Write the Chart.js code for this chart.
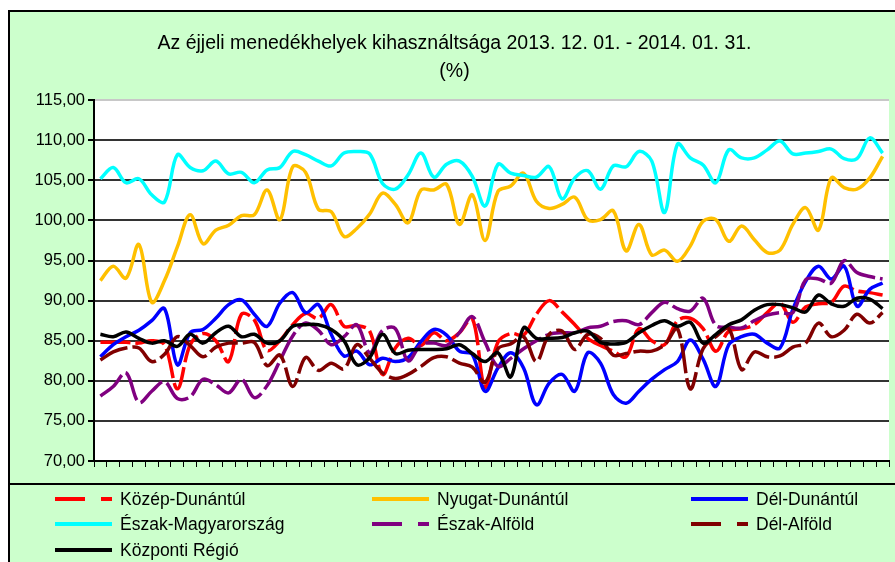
<!DOCTYPE html>
<html>
<head>
<meta charset="utf-8">
<script src="https://cdn.jsdelivr.net/npm/chart.js@4.4.1/dist/chart.umd.min.js"></script>
<style>
  html, body { margin: 0; padding: 0; background: #fff; }
</style>
</head>
<body>
<canvas id="shelter-chart" width="895" height="562"></canvas>
<script>
// days of the period 2013.12.01 - 2014.01.31 (not shown as labels on the axis)
const days = [
  '12.01','12.02','12.03','12.04','12.05','12.06','12.07','12.08','12.09','12.10',
  '12.11','12.12','12.13','12.14','12.15','12.16','12.17','12.18','12.19','12.20',
  '12.21','12.22','12.23','12.24','12.25','12.26','12.27','12.28','12.29','12.30','12.31',
  '01.01','01.02','01.03','01.04','01.05','01.06','01.07','01.08','01.09','01.10',
  '01.11','01.12','01.13','01.14','01.15','01.16','01.17','01.18','01.19','01.20',
  '01.21','01.22','01.23','01.24','01.25','01.26','01.27','01.28','01.29','01.30','01.31'
];

const kozepDunantul = [
  84.8, 84.8, 84.8, 84.7, 85.0, 84.5, 79.0, 84.5, 85.9, 85.0,
  82.4, 88.3, 87.6, 83.8, 85.0, 87.0, 88.4, 87.8, 89.5, 86.8,
  86.9, 86.2, 80.8, 84.1, 85.3, 84.4, 86.0, 85.0, 86.0, 87.8,
  79.2, 84.8, 85.9, 85.7, 88.3, 90.0, 88.6, 87.0, 85.3, 84.4,
  83.7, 83.0, 86.5, 85.0, 84.5, 87.5, 87.8, 86.5, 83.7, 86.2,
  86.5, 87.0, 88.5, 89.7, 87.3, 89.2, 89.6, 89.8, 91.8, 91.2,
  91.0, 90.7
];
const nyugatDunantul = [
  92.5, 94.3, 92.8, 97.0, 89.8, 92.5, 96.7, 100.7, 97.1, 98.8,
  99.4, 100.6, 100.7, 103.8, 100.1, 106.7, 106.0, 101.4, 101.1, 98.0,
  99.0, 100.8, 103.4, 102.0, 99.7, 103.8, 103.8, 104.5, 99.5, 103.2,
  97.5, 103.6, 104.3, 105.9, 102.4, 101.5, 102.0, 102.9, 100.1, 100.1,
  101.2, 96.2, 99.5, 95.7, 96.3, 94.9, 96.8, 99.9, 100.1, 97.4,
  99.3, 97.6, 96.0, 96.3, 99.5, 101.6, 98.8, 105.3, 104.1, 103.9,
  105.3, 108.0
];
const delDunantul = [
  83.0, 84.5, 85.5, 86.3, 87.5, 89.0, 82.0, 86.0, 86.4, 87.8,
  89.5, 90.1, 88.3, 86.8, 89.7, 91.0, 88.5, 89.5, 85.8, 83.1,
  83.7, 82.0, 82.8, 82.4, 82.9, 84.9, 86.4, 85.7, 83.7, 83.3,
  78.7, 81.6, 83.5, 81.6, 77.0, 79.7, 80.8, 78.7, 83.5, 82.2,
  78.3, 77.2, 78.7, 80.2, 81.4, 82.4, 85.1, 82.7, 79.3, 84.5,
  85.5, 85.8, 84.7, 84.1, 88.9, 92.4, 94.3, 92.7, 94.3, 89.3,
  91.4, 92.2
];
const eszakMagyarorszag = [
  105.2, 106.6, 104.7, 105.2, 103.2, 102.3, 108.2, 106.6, 106.2, 107.4,
  105.8, 106.0, 104.7, 106.3, 106.6, 108.6, 108.2, 107.4, 106.8, 108.4,
  108.6, 108.3, 104.6, 103.9, 105.7, 108.4, 105.4, 107.0, 107.4, 105.5,
  101.8, 107.0, 105.9, 105.6, 105.4, 106.7, 102.7, 105.3, 106.2, 103.9,
  106.8, 106.7, 108.6, 107.4, 101.0, 109.5, 107.8, 106.9, 104.7, 108.8,
  107.8, 107.8, 108.8, 109.9, 108.3, 108.4, 108.6, 108.9, 107.7, 107.7,
  110.3, 108.4
];
const eszakAlfold = [
  78.1, 79.3, 81.0, 77.3, 78.7, 79.9, 77.8, 78.0, 80.2, 79.5,
  78.5, 80.2, 77.9, 79.4, 82.5, 85.6, 87.2, 86.3, 84.5, 85.5,
  87.0, 83.5, 86.3, 86.5, 82.5, 84.5, 84.7, 84.4, 86.0, 88.0,
  84.8, 81.8, 82.8, 84.0, 85.0, 85.8, 86.0, 86.0, 86.6, 86.8,
  87.4, 87.5, 87.0, 88.5, 89.8, 89.0, 88.7, 90.3, 86.9, 86.7,
  86.6, 87.5, 88.2, 88.5, 88.5, 92.6, 92.7, 92.2, 95.0, 93.5,
  93.0, 92.7
];
const delAlfold = [
  82.6, 83.6, 84.1, 84.1, 82.4, 83.3, 85.5, 84.4, 83.0, 84.2,
  84.7, 84.7, 84.8, 81.9, 83.2, 79.3, 82.9, 81.3, 82.2, 81.5,
  84.5, 82.8, 81.0, 80.3, 80.8, 81.8, 82.9, 83.0, 82.2, 81.7,
  79.8, 84.0, 84.6, 85.5, 82.4, 85.8, 86.2, 83.9, 85.8, 85.3,
  83.2, 83.4, 83.7, 83.7, 84.5, 86.5, 79.0, 84.0, 85.5, 86.5,
  81.4, 83.6, 83.0, 83.1, 84.2, 84.7, 87.2, 85.5, 86.3, 88.3,
  87.2, 88.5
];
const kozpontiRegio = [
  85.8, 85.5, 86.1, 85.3, 84.7, 85.0, 84.3, 85.8, 84.7, 86.0,
  86.8, 85.5, 85.8, 84.7, 85.0, 86.8, 87.0, 87.0, 86.4, 85.0,
  82.0, 82.9, 85.8, 83.4, 83.8, 83.9, 83.9, 84.0, 84.5, 83.4,
  82.4, 83.5, 80.5, 86.6, 85.3, 85.3, 85.4, 86.0, 86.2, 84.8,
  84.6, 84.8, 86.0, 86.9, 87.5, 86.8, 87.3, 84.7, 85.8, 87.0,
  87.6, 88.8, 89.5, 89.5, 89.1, 88.6, 90.7, 89.6, 89.3, 90.3,
  90.2, 89.0
];

const FONT = '"Liberation Sans", Arial, sans-serif';
const plotDash = [30, 5];

function series(label, data, color, dashed, order) {
    return {
        label: label,
        data: data,
        borderColor: color,
        backgroundColor: color,
        borderWidth: 3.5,
        borderDash: dashed ? plotDash : [],
        legendDash: dashed ? [30, 16] : [],
        pointRadius: 0,
        tension: 0.35,
        fill: false,
        order: order
    };
}

// green frame, borders and white plot area
const framePlugin = {
    id: 'frame',
    beforeDraw(chart) {
        const { ctx, chartArea: a } = chart;
        ctx.save();
        ctx.fillStyle = '#fff';
        ctx.fillRect(0, 0, chart.width, chart.height);
        ctx.fillStyle = '#ccffcc';
        ctx.fillRect(9, 11, chart.width - 9, chart.height - 11);
        ctx.strokeStyle = '#000';
        ctx.lineWidth = 2;
        ctx.beginPath();
        ctx.moveTo(9, chart.height);
        ctx.lineTo(9, 11);
        ctx.lineTo(chart.width, 11);
        ctx.moveTo(9, 484);
        ctx.lineTo(chart.width, 484);
        ctx.stroke();
        ctx.fillStyle = '#fff';
        ctx.fillRect(a.left, a.top, a.right - a.left, a.bottom - a.top);
        ctx.restore();
    }
};

// three-column legend under the chart
const legendPlugin = {
    id: 'gridLegend',
    afterDraw(chart) {
        const ctx = chart.ctx;
        const cols = [55, 372, 691];
        const rows = [499, 524, 550];
        ctx.save();
        ctx.font = '17.5px ' + FONT;
        ctx.textBaseline = 'middle';
        chart.data.datasets.forEach((ds, i) => {
            const x = cols[i % 3];
            const y = rows[Math.floor(i / 3)];
            ctx.strokeStyle = ds.borderColor;
            ctx.lineWidth = 4;
            ctx.setLineDash(ds.legendDash);
            ctx.beginPath();
            ctx.moveTo(x, y);
            ctx.lineTo(x + 57, y);
            ctx.stroke();
            ctx.setLineDash([]);
            ctx.fillStyle = '#000';
            ctx.fillText(ds.label, x + 65, y + 1);
        });
        ctx.restore();
    }
};

const ctx = document.getElementById('shelter-chart').getContext('2d');

new Chart(ctx, {
    type: 'line',
    data: {
        labels: days,
        datasets: [
            series('Közép-Dunántúl', kozepDunantul, '#ff0000', true, 6),
            series('Nyugat-Dunántúl', nyugatDunantul, '#ffc000', false, 5),
            series('Dél-Dunántúl', delDunantul, '#0000ff', false, 4),
            series('Észak-Magyarország', eszakMagyarorszag, '#00ffff', false, 3),
            series('Észak-Alföld', eszakAlfold, '#800080', true, 2),
            series('Dél-Alföld', delAlfold, '#800000', true, 1),
            series('Központi Régió', kozpontiRegio, '#000000', false, 0)
        ]
    },
    options: {
        responsive: false,
        animation: false,
        layout: { padding: { left: 20, right: 6, top: 0, bottom: 91 } },
        scales: {
            x: {
                type: 'category',
                offset: true,
                grid: {
                    offset: true,
                    drawOnChartArea: false,
                    drawTicks: true,
                    tickLength: 6,
                    tickColor: '#000',
                    tickWidth: 1
                },
                border: { display: true, color: '#000', width: 2 },
                ticks: { display: false },
                afterFit(scale) { scale.height = 10; }
            },
            y: {
                min: 70,
                max: 115,
                ticks: {
                    stepSize: 5,
                    color: '#000',
                    padding: 3,
                    font: { family: FONT, size: 16.5 },
                    callback: v => v.toFixed(2).replace('.', ',')
                },
                grid: {
                    color: c => c.tick && c.tick.value === 115 ? '#c8c8c8' : '#333',
                    lineWidth: 2,
                    tickColor: '#000',
                    tickLength: 6
                },
                border: { display: true, color: '#000', width: 2 },
                afterFit(scale) { scale.width = 74; }
            }
        },
        plugins: {
            legend: { display: false },
            tooltip: { enabled: false },
            title: {
                display: true,
                text: ['Az éjjeli menedékhelyek kihasználtsága 2013. 12. 01. - 2014. 01. 31.', '(%)'],
                color: '#000',
                font: { family: FONT, size: 19.5, weight: 'normal', lineHeight: 1.44 },
                padding: { top: 30, bottom: 14 }
            }
        }
    },
    plugins: [framePlugin, legendPlugin]
});
</script>
</body>
</html>
